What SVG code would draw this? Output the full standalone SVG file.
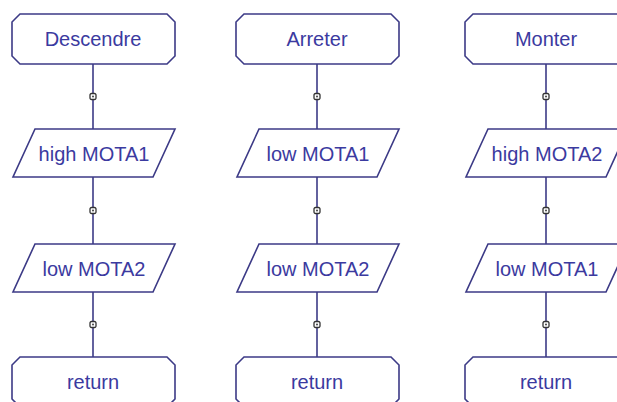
<svg xmlns="http://www.w3.org/2000/svg" width="617" height="402" viewBox="0 0 617 402">
<style>
.shape{fill:#ffffff;stroke:#3c3a86;stroke-width:1.6}
.conn{stroke:#3c3a86;stroke-width:1.6;fill:none}
.lbl{font-family:"Liberation Sans",Arial,sans-serif;font-size:20px;fill:#3b3aa0;text-anchor:middle}
.dot{fill:#ffffff;stroke:#333333;stroke-width:1.3}
.dotc{fill:#444444}
</style>
<defs>
<g id="joint"><rect class="dot" x="-3" y="-3" width="6" height="6" rx="1.5"/><circle class="dotc" r="1"/></g>
</defs>
<rect width="617" height="402" fill="#ffffff"/>
<g id="connectors">
<line class="conn" x1="93" y1="64" x2="93" y2="129"/>
<line class="conn" x1="93" y1="177" x2="93" y2="244"/>
<line class="conn" x1="93" y1="292" x2="93" y2="357"/>
<line class="conn" x1="317" y1="64" x2="317" y2="129"/>
<line class="conn" x1="317" y1="177" x2="317" y2="244"/>
<line class="conn" x1="317" y1="292" x2="317" y2="357"/>
<line class="conn" x1="546" y1="64" x2="546" y2="129"/>
<line class="conn" x1="546" y1="177" x2="546" y2="244"/>
<line class="conn" x1="546" y1="292" x2="546" y2="357"/>
<use href="#joint" x="93" y="96.5"/>
<use href="#joint" x="93" y="210.5"/>
<use href="#joint" x="93" y="324.5"/>
<use href="#joint" x="317" y="96.5"/>
<use href="#joint" x="317" y="210.5"/>
<use href="#joint" x="317" y="324.5"/>
<use href="#joint" x="546" y="96.5"/>
<use href="#joint" x="546" y="210.5"/>
<use href="#joint" x="546" y="324.5"/>
</g>
<g id="descendre">
<polygon class="shape" points="20,14 167,14 175,22 175,56 167,64 20,64 12,56 12,22"/>
<text class="lbl" x="93" y="46">Descendre</text>
</g>
<g id="high-mota1">
<polygon class="shape" points="35,129 175,129 153,177 13,177"/>
<text class="lbl" x="94" y="161">high MOTA1</text>
</g>
<g id="low-mota2-a">
<polygon class="shape" points="35,244 175,244 153,292 13,292"/>
<text class="lbl" x="94" y="276">low MOTA2</text>
</g>
<g id="return-a">
<polygon class="shape" points="20,357 167,357 175,365 175,399 167,407 20,407 12,399 12,365"/>
<text class="lbl" x="93" y="389">return</text>
</g>
<g id="arreter">
<polygon class="shape" points="244,14 391,14 399,22 399,56 391,64 244,64 236,56 236,22"/>
<text class="lbl" x="317" y="46">Arreter</text>
</g>
<g id="low-mota1-b">
<polygon class="shape" points="259,129 399,129 377,177 237,177"/>
<text class="lbl" x="318" y="161">low MOTA1</text>
</g>
<g id="low-mota2-b">
<polygon class="shape" points="259,244 399,244 377,292 237,292"/>
<text class="lbl" x="318" y="276">low MOTA2</text>
</g>
<g id="return-b">
<polygon class="shape" points="244,357 391,357 399,365 399,399 391,407 244,407 236,399 236,365"/>
<text class="lbl" x="317" y="389">return</text>
</g>
<g id="monter">
<polygon class="shape" points="473,14 620,14 628,22 628,56 620,64 473,64 465,56 465,22"/>
<text class="lbl" x="546" y="46">Monter</text>
</g>
<g id="high-mota2">
<polygon class="shape" points="488,129 628,129 606,177 466,177"/>
<text class="lbl" x="547" y="161">high MOTA2</text>
</g>
<g id="low-mota1-c">
<polygon class="shape" points="488,244 628,244 606,292 466,292"/>
<text class="lbl" x="547" y="276">low MOTA1</text>
</g>
<g id="return-c">
<polygon class="shape" points="473,357 620,357 628,365 628,399 620,407 473,407 465,399 465,365"/>
<text class="lbl" x="546" y="389">return</text>
</g>
</svg>
